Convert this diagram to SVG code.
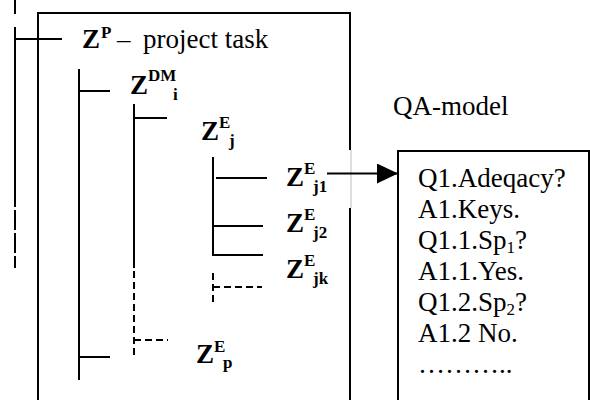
<svg xmlns="http://www.w3.org/2000/svg" width="590" height="400" viewBox="0 0 590 400">
  <defs>
    <style>
      .ln { stroke: #000; stroke-width: 2; fill: none; }
      .dash { stroke: #000; stroke-width: 2; fill: none; stroke-dasharray: 7 4; }
      .frame { stroke: #000; stroke-width: 2; fill: none; }
      .z { font-family: "Liberation Serif", "Times New Roman", serif; font-weight: bold; font-size: 27px; fill: #000; }
      .s { font-family: "Liberation Serif", "Times New Roman", serif; font-weight: bold; font-size: 17px; fill: #000; }
      .t { font-family: "Liberation Serif", "Times New Roman", serif; font-size: 27px; fill: #000; }
      .sub { font-size: 17px; }
    </style>
    <marker id="arrowhead" markerWidth="21" markerHeight="20" refX="21" refY="10" orient="auto" markerUnits="userSpaceOnUse">
      <path d="M0,0 L21,10 L0,20 Z" fill="#000"/>
    </marker>
  </defs>

  <rect width="590" height="400" fill="#fff"/>

  <!-- project frame -->
  <g id="project-frame">
    <path class="frame" d="M38,400 V13 H350 V150"/>
    <line x1="351" y1="150" x2="351" y2="208" stroke="#bbb" stroke-width="1"/>
    <line class="frame" x1="350" y1="208" x2="350" y2="400"/>
  </g>

  <!-- tree connectors -->
  <g id="connectors">
    <line class="ln" x1="15" y1="0" x2="15" y2="14"/>
    <line class="ln" x1="15" y1="27" x2="15" y2="207"/>
    <line class="ln" x1="15" y1="210" x2="15" y2="268" stroke-dasharray="20 3"/>
    <line class="ln" x1="14" y1="39" x2="62" y2="39"/>

    <line class="ln" x1="79" y1="69" x2="79" y2="380"/>
    <line class="ln" x1="79" y1="91" x2="110" y2="91"/>
    <line class="ln" x1="79" y1="357" x2="110" y2="357"/>

    <line class="ln" x1="134" y1="104" x2="134" y2="268"/>
    <line class="dash" x1="134" y1="271" x2="134" y2="358"/>
    <line class="ln" x1="134" y1="118" x2="167" y2="118"/>
    <line class="dash" x1="134" y1="340" x2="168" y2="340"/>

    <line class="ln" x1="213" y1="157" x2="213" y2="255"/>
    <line class="ln" x1="216" y1="178" x2="267" y2="178"/>
    <line class="ln" x1="213" y1="226" x2="263" y2="226"/>
    <line class="ln" x1="212" y1="255" x2="263" y2="255"/>
    <line class="dash" x1="213" y1="273" x2="213" y2="302"/>
    <line class="dash" x1="213" y1="287" x2="262" y2="287"/>

    <line class="ln" x1="327" y1="173.5" x2="398" y2="173.5" marker-end="url(#arrowhead)"/>
  </g>

  <!-- nodes -->
  <g id="node-zp">
    <text class="z" x="82" y="48">Z</text>
    <text class="s" x="101" y="38">P</text>
    <text class="t" x="117" y="48">–</text>
    <text class="t" x="143" y="48">project task</text>
  </g>

  <g id="node-zdm-i">
    <text class="z" x="130" y="94">Z</text>
    <text class="s" x="148" y="81">DM</text>
    <text class="s" x="173" y="100">i</text>
  </g>

  <g id="node-ze-j">
    <text class="z" x="201" y="140">Z</text>
    <text class="s" x="219" y="128">E</text>
    <text class="s" x="229" y="146">j</text>
  </g>

  <g id="node-ze-j1">
    <text class="z" x="286" y="186">Z</text>
    <text class="s" x="304" y="174">E</text>
    <text class="s" x="313" y="192">j1</text>
  </g>

  <g id="node-ze-j2">
    <text class="z" x="286" y="232">Z</text>
    <text class="s" x="304" y="220">E</text>
    <text class="s" x="313" y="238">j2</text>
  </g>

  <g id="node-ze-jk">
    <text class="z" x="286" y="278">Z</text>
    <text class="s" x="304" y="266">E</text>
    <text class="s" x="313" y="284">jk</text>
  </g>

  <g id="node-ze-p">
    <text class="z" x="196" y="363">Z</text>
    <text class="s" x="214" y="352">E</text>
    <text class="s" x="223" y="368">p</text>
  </g>

  <g id="node-qa-model">
    <text class="t" x="393" y="115">QA-model</text>
    <rect class="frame" x="398" y="151" width="191" height="260"/>
    <text class="t" x="418" y="187">Q1.Adeqacy?</text>
    <text class="t" x="418" y="218">A1.Keys.</text>
    <text class="t" x="418" y="249">Q1.1.Sp<tspan class="sub" dy="4">1</tspan><tspan dy="-4">?</tspan></text>
    <text class="t" x="418" y="280">A1.1.Yes.</text>
    <text class="t" x="418" y="311">Q1.2.Sp<tspan class="sub" dy="4">2</tspan><tspan dy="-4">?</tspan></text>
    <text class="t" x="418" y="342">A1.2 No.</text>
    <text class="t" x="418" y="373">………..</text>
  </g>
</svg>
